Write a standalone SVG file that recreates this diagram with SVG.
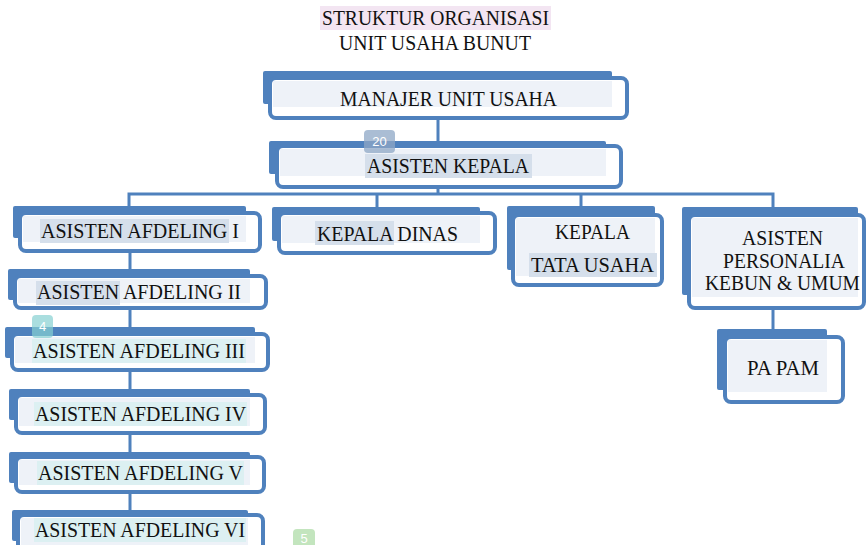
<svg xmlns="http://www.w3.org/2000/svg" width="866" height="545" viewBox="0 0 866 545">
<style>
.bk{fill:#4f81bd}
.fr{fill:#ffffff;stroke:#4f81bd;stroke-width:4}
.in{fill:#eef2f8}
.hl{fill:#d5dfeb}
.ht{fill:#dcf0f2}
.t{font-family:"Liberation Serif","Times New Roman",serif;font-size:21px;fill:#111111}
.c{stroke:#4f81bd;stroke-width:3;fill:none}
.bt{font-family:"Liberation Sans",Arial,sans-serif;font-size:13px;fill:#ffffff}
</style>
<rect width="866" height="545" fill="#ffffff"/>
<g id="title">
<rect x="320" y="6" width="231" height="24" fill="#f3e5f2"/>
<text class="t" x="322" y="25" textLength="227" lengthAdjust="spacingAndGlyphs">STRUKTUR ORGANISASI</text>
<text class="t" x="339" y="50" textLength="192" lengthAdjust="spacingAndGlyphs">UNIT USAHA BUNUT</text>
</g>
<g id="connectors">
<line class="c" x1="438" y1="118" x2="438" y2="146"/>
<line class="c" x1="438" y1="187" x2="438" y2="194"/>
<polyline class="c" points="129,213 129,194 773,194 773,215"/>
<line class="c" x1="377" y1="194" x2="377" y2="213"/>
<line class="c" x1="581" y1="194" x2="581" y2="215"/>
<line class="c" x1="130" y1="251" x2="130" y2="515"/>
<line class="c" x1="773" y1="308" x2="773" y2="337"/>
</g>
<g id="manajer">
<rect class="bk" x="263" y="71" width="349" height="33" rx="2"/>
<rect class="fr" x="270" y="78" width="357" height="40" rx="6"/>
<rect class="in" x="273" y="81" width="339" height="26"/>
<text class="t" x="340" y="106" textLength="217" lengthAdjust="spacingAndGlyphs">MANAJER UNIT USAHA</text>
</g>
<g id="asisten-kepala">
<rect class="bk" x="269" y="141" width="337" height="33" rx="2"/>
<rect class="fr" x="277" y="146" width="344" height="41" rx="6"/>
<rect class="in" x="280" y="149" width="326" height="27"/>
<rect class="hl" x="365" y="154" width="167" height="24"/>
<text class="t" x="367" y="173" textLength="162" lengthAdjust="spacingAndGlyphs">ASISTEN KEPALA</text>
</g>
<g id="afdeling-1">
<rect class="bk" x="13" y="206" width="233" height="32" rx="2"/>
<rect class="fr" x="20" y="213" width="240" height="38" rx="6"/>
<rect class="in" x="23" y="216" width="223" height="26"/>
<rect class="hl" x="40" y="219" width="189" height="24"/>
<text class="t" x="41" y="238" textLength="198" lengthAdjust="spacingAndGlyphs">ASISTEN AFDELING I</text>
</g>
<g id="kepala-dinas">
<rect class="bk" x="272" y="207" width="208" height="34" rx="2"/>
<rect class="fr" x="279" y="213" width="216" height="40" rx="6"/>
<rect class="in" x="282" y="216" width="198" height="27"/>
<rect class="hl" x="315" y="221" width="79" height="24"/>
<text class="t" x="317" y="241" textLength="141" lengthAdjust="spacingAndGlyphs">KEPALA DINAS</text>
</g>
<g id="kepala-tata-usaha">
<rect class="bk" x="507" y="206" width="148" height="64" rx="2"/>
<rect class="fr" x="513" y="215" width="149" height="70" rx="6"/>
<rect class="in" x="516" y="218" width="139" height="58"/>
<rect class="hl" x="529" y="253" width="128" height="24"/>
<text class="t" x="555" y="239" textLength="75" lengthAdjust="spacingAndGlyphs">KEPALA</text>
<text class="t" x="531" y="272" textLength="123" lengthAdjust="spacingAndGlyphs">TATA USAHA</text>
</g>
<g id="asisten-personalia">
<rect class="bk" x="682" y="207" width="176" height="88" rx="2"/>
<rect class="fr" x="689" y="215" width="175" height="93" rx="6"/>
<rect class="in" x="692" y="218" width="166" height="79"/>
<text class="t" x="742" y="245" textLength="81" lengthAdjust="spacingAndGlyphs">ASISTEN</text>
<text class="t" x="723" y="268" textLength="122" lengthAdjust="spacingAndGlyphs">PERSONALIA</text>
<text class="t" transform="translate(705,290) scale(1,1.08)" x="0" y="0" style="font-size:19.5px">KEBUN &amp; UMUM</text>
</g>
<g id="pa-pam">
<rect class="bk" x="717" y="329" width="110" height="61" rx="2"/>
<rect class="fr" x="725" y="337" width="118" height="65" rx="6"/>
<rect class="in" x="728" y="340" width="99" height="52"/>
<text class="t" x="747" y="375" textLength="72" lengthAdjust="spacingAndGlyphs">PA PAM</text>
</g>
<g id="afdeling-2">
<rect class="bk" x="8" y="269" width="242" height="31" rx="2"/>
<rect class="fr" x="15" y="276" width="251" height="32" rx="6"/>
<rect class="in" x="18" y="279" width="232" height="24"/>
<rect class="hl" x="36" y="281" width="84" height="24"/>
<text class="t" x="37" y="299" textLength="204" lengthAdjust="spacingAndGlyphs">ASISTEN AFDELING II</text>
</g>
<g id="afdeling-3">
<rect class="bk" x="5" y="327" width="250" height="31" rx="2"/>
<rect class="fr" x="12" y="334" width="256" height="36" rx="6"/>
<rect class="in" x="15" y="337" width="240" height="26"/>
<rect class="ht" x="32" y="339" width="214" height="24"/>
<text class="t" x="33" y="358" textLength="212" lengthAdjust="spacingAndGlyphs">ASISTEN AFDELING III</text>
</g>
<g id="afdeling-4">
<rect class="bk" x="9" y="389" width="241" height="31" rx="2"/>
<rect class="fr" x="16" y="395" width="249" height="38" rx="6"/>
<rect class="in" x="19" y="398" width="231" height="28"/>
<rect class="ht" x="34" y="402" width="213" height="24"/>
<text class="t" x="35" y="421" textLength="211" lengthAdjust="spacingAndGlyphs">ASISTEN AFDELING IV</text>
</g>
<g id="afdeling-5">
<rect class="bk" x="9" y="452" width="241" height="31" rx="2"/>
<rect class="fr" x="16" y="457" width="248" height="35" rx="6"/>
<rect class="in" x="19" y="460" width="231" height="25"/>
<rect class="ht" x="37" y="461" width="207" height="24"/>
<text class="t" x="38" y="480" textLength="205" lengthAdjust="spacingAndGlyphs">ASISTEN AFDELING V</text>
</g>
<g id="afdeling-6">
<rect class="bk" x="12" y="510" width="236" height="31" rx="2"/>
<rect class="fr" x="18" y="515" width="245" height="40" rx="6"/>
<rect class="in" x="21" y="518" width="227" height="27"/>
<rect class="ht" x="34" y="518" width="212" height="24"/>
<text class="t" x="35" y="537" textLength="210" lengthAdjust="spacingAndGlyphs">ASISTEN AFDELING VI</text>
</g>
<g id="badges">
<rect x="364" y="130" width="31" height="23" rx="4" fill="#8ea7c6" opacity="0.75"/>
<text class="bt" x="379.5" y="146" text-anchor="middle">20</text>
<rect x="32" y="315" width="21" height="23" rx="4" fill="#86d0d2" opacity="0.7"/>
<text class="bt" x="42.5" y="331" text-anchor="middle">4</text>
<rect x="293" y="529" width="22" height="20" rx="4" fill="#b4dfae" opacity="0.8"/>
<text class="bt" x="304" y="543" text-anchor="middle">5</text>
</g>
</svg>
